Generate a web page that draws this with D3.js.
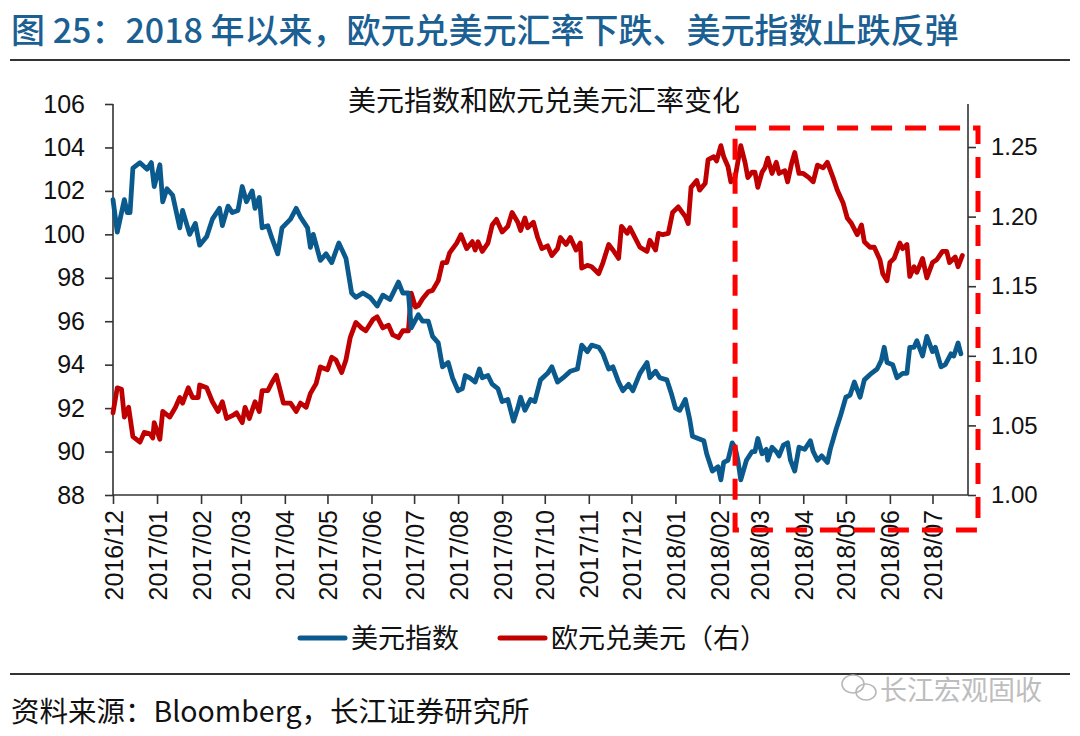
<!DOCTYPE html>
<html><head><meta charset="utf-8">
<script src="https://cdn.jsdelivr.net/npm/d3@7"></script>
<style>
html,body{margin:0;padding:0;background:#fff;}
svg{display:block;}
</style></head>
<body><svg id="chart" width="1080" height="736"></svg>
<script>
// ---------- DATA ----------
const chartTitle = "图 25：2018 年以来，欧元兑美元汇率下跌、美元指数止跌反弹";
const subTitle = "美元指数和欧元兑美元汇率变化";
const seriesNames = ["美元指数", "欧元兑美元（右）"];
const sourceText = "资料来源：Bloomberg，长江证券研究所";
const watermark = "长江宏观固收";

const monthTicks = ["2016/12","2017/01","2017/02","2017/03","2017/04","2017/05","2017/06","2017/07","2017/08","2017/09","2017/10","2017/11","2017/12","2018/01","2018/02","2018/03","2018/04","2018/05","2018/06","2018/07"];
const leftTicks = [88,90,92,94,96,98,100,102,104,106];
const rightTicks = [1.00,1.05,1.10,1.15,1.20,1.25];
const xStart = "2016-12-01", xEnd = "2018-07-26";
const boxFrom = "2018-02-12"; // highlighted period start

const dxyDates = ["2016-12-01","2016-12-04","2016-12-09","2016-12-11","2016-12-13","2016-12-15","2016-12-20","2016-12-25","2016-12-28","2016-12-30",
"2017-01-03","2017-01-05","2017-01-08","2017-01-12","2017-01-17","2017-01-19","2017-01-24","2017-01-28","2017-01-31",
"2017-02-05","2017-02-09","2017-02-14","2017-02-16","2017-02-20","2017-02-23","2017-02-27",
"2017-03-02","2017-03-05","2017-03-09","2017-03-11","2017-03-14","2017-03-16","2017-03-20","2017-03-23","2017-03-27","2017-03-30",
"2017-04-05","2017-04-09","2017-04-12","2017-04-17","2017-04-19","2017-04-21","2017-04-26","2017-04-30",
"2017-05-04","2017-05-09","2017-05-14","2017-05-18","2017-05-21","2017-05-26","2017-05-31",
"2017-06-05","2017-06-09","2017-06-14","2017-06-20","2017-06-23","2017-06-27","2017-06-29",
"2017-07-04","2017-07-07","2017-07-11","2017-07-14","2017-07-18","2017-07-21","2017-07-25","2017-07-28",
"2017-08-01","2017-08-04","2017-08-06","2017-08-09","2017-08-13","2017-08-16","2017-08-18","2017-08-22","2017-08-25","2017-08-29",
"2017-09-01","2017-09-05","2017-09-09","2017-09-12","2017-09-14","2017-09-17","2017-09-21","2017-09-24","2017-09-28",
"2017-10-03","2017-10-06","2017-10-10","2017-10-14","2017-10-19","2017-10-24","2017-10-27","2017-10-31",
"2017-11-03","2017-11-08","2017-11-11","2017-11-15","2017-11-18","2017-11-22","2017-11-25","2017-11-29",
"2017-12-02","2017-12-07","2017-12-12","2017-12-14","2017-12-18","2017-12-21","2017-12-26","2017-12-29",
"2018-01-01","2018-01-04","2018-01-08","2018-01-11","2018-01-13","2018-01-17","2018-01-21","2018-01-23","2018-01-27","2018-01-31",
"2018-02-02","2018-02-04","2018-02-07","2018-02-10","2018-02-12","2018-02-14","2018-02-16","2018-02-20","2018-02-24","2018-02-26","2018-02-28",
"2018-03-03","2018-03-06","2018-03-07","2018-03-10","2018-03-13","2018-03-15","2018-03-18","2018-03-21","2018-03-23","2018-03-26","2018-03-29",
"2018-04-02","2018-04-06","2018-04-08","2018-04-11","2018-04-14","2018-04-18","2018-04-20","2018-04-24","2018-04-27",
"2018-05-01","2018-05-04","2018-05-07","2018-05-11","2018-05-14","2018-05-19","2018-05-23","2018-05-26","2018-05-28","2018-05-30",
"2018-06-03","2018-06-06","2018-06-10","2018-06-13","2018-06-15","2018-06-18","2018-06-20","2018-06-24","2018-06-27",
"2018-07-01","2018-07-03","2018-07-07","2018-07-10","2018-07-14","2018-07-16","2018-07-19","2018-07-21"];
const dxyValues = [101.6,100.1,101.6,101.0,101.0,103.05,103.3,103.0,103.3,102.2,
103.2,101.5,102.1,101.8,100.3,101.1,100.0,100.5,99.5,
99.9,100.7,101.2,100.4,101.3,101.0,101.1,
102.2,101.5,102.0,101.2,101.7,100.3,100.4,99.8,99.1,100.3,
100.7,101.2,100.8,100.3,99.4,100.0,98.8,99.1,
98.7,99.6,98.9,97.3,97.1,97.3,97.1,
96.7,97.2,97.0,97.8,97.3,97.3,95.7,
96.3,96.0,96.0,95.3,95.0,93.9,94.1,93.4,
92.8,92.9,93.5,93.4,93.2,93.8,93.4,93.5,93.1,92.9,
92.3,92.4,91.4,92.0,92.5,91.9,92.4,92.3,93.3,
93.6,93.9,93.2,93.4,93.7,93.8,94.9,94.6,
94.9,94.8,94.5,93.8,93.9,93.2,92.8,93.1,
92.8,93.6,94.1,93.4,93.7,93.4,93.3,92.7,
92.0,91.9,92.4,91.5,90.7,90.6,90.5,89.9,89.1,89.3,
88.7,89.5,89.6,90.4,90.2,89.6,88.7,89.6,90.0,90.0,90.6,
89.9,90.1,89.6,90.2,90.0,89.8,90.3,90.4,89.6,89.1,90.2,
90.1,90.5,90.0,89.6,89.8,89.5,90.1,91.0,91.6,
92.5,92.6,93.2,92.5,93.3,93.6,93.8,94.2,94.8,94.1,
94.0,93.4,93.6,93.6,94.8,94.8,95.1,94.4,95.3,
94.6,94.8,93.9,94.0,94.5,94.4,95.0,94.5];

const eurDates = ["2016-12-01","2016-12-04","2016-12-07","2016-12-09","2016-12-12","2016-12-15","2016-12-20","2016-12-23","2016-12-27","2016-12-29","2016-12-30",
"2017-01-03","2017-01-05","2017-01-10","2017-01-14","2017-01-17","2017-01-19","2017-01-23","2017-01-26","2017-01-30","2017-01-31",
"2017-02-05","2017-02-09","2017-02-13","2017-02-16","2017-02-19","2017-02-23","2017-02-26",
"2017-03-02","2017-03-04","2017-03-07","2017-03-11","2017-03-14","2017-03-16","2017-03-20","2017-03-23","2017-03-26","2017-03-31",
"2017-04-05","2017-04-09","2017-04-12","2017-04-16","2017-04-19","2017-04-23","2017-04-26",
"2017-05-01","2017-05-04","2017-05-07","2017-05-11","2017-05-14","2017-05-17","2017-05-21","2017-05-25","2017-05-28",
"2017-06-02","2017-06-05","2017-06-09","2017-06-13","2017-06-16","2017-06-20","2017-06-23","2017-06-27","2017-06-29",
"2017-07-02","2017-07-04","2017-07-07","2017-07-11","2017-07-14","2017-07-18","2017-07-21","2017-07-24","2017-07-26","2017-07-31",
"2017-08-03","2017-08-07","2017-08-11","2017-08-13","2017-08-15","2017-08-18","2017-08-22","2017-08-25","2017-08-28",
"2017-09-01","2017-09-05","2017-09-08","2017-09-12","2017-09-14","2017-09-17","2017-09-19","2017-09-23","2017-09-26","2017-09-29",
"2017-10-03","2017-10-06","2017-10-10","2017-10-12","2017-10-16","2017-10-19","2017-10-23","2017-10-26","2017-10-27","2017-10-31",
"2017-11-03","2017-11-08","2017-11-11","2017-11-15","2017-11-18","2017-11-22","2017-11-24","2017-11-28","2017-11-30",
"2017-12-02","2017-12-07","2017-12-12","2017-12-14","2017-12-18","2017-12-20","2017-12-23","2017-12-27","2017-12-30",
"2018-01-03","2018-01-08","2018-01-10","2018-01-12","2018-01-16","2018-01-18","2018-01-22","2018-01-24","2018-01-28","2018-01-30",
"2018-02-02","2018-02-04","2018-02-07","2018-02-09","2018-02-12","2018-02-16","2018-02-19","2018-02-21","2018-02-24","2018-02-26","2018-02-28",
"2018-03-03","2018-03-05","2018-03-07","2018-03-10","2018-03-13","2018-03-15","2018-03-19","2018-03-21","2018-03-24","2018-03-26","2018-03-29",
"2018-04-01","2018-04-05","2018-04-08","2018-04-11","2018-04-15","2018-04-18","2018-04-22","2018-04-25","2018-04-29",
"2018-05-02","2018-05-05","2018-05-09","2018-05-12","2018-05-14","2018-05-18","2018-05-21","2018-05-25","2018-05-27","2018-05-30",
"2018-06-01","2018-06-04","2018-06-08","2018-06-10","2018-06-13","2018-06-15","2018-06-18","2018-06-20","2018-06-24","2018-06-27",
"2018-07-01","2018-07-04","2018-07-08","2018-07-11","2018-07-13","2018-07-17","2018-07-19","2018-07-22"];
const eurValues = [1.059,1.077,1.076,1.056,1.063,1.042,1.038,1.045,1.044,1.041,1.052,
1.040,1.060,1.056,1.063,1.070,1.066,1.077,1.070,1.070,1.079,
1.077,1.067,1.060,1.067,1.055,1.057,1.059,
1.052,1.063,1.055,1.067,1.060,1.075,1.075,1.081,1.086,1.066,
1.066,1.060,1.066,1.063,1.073,1.080,1.092,
1.090,1.099,1.097,1.088,1.097,1.113,1.124,1.120,1.118,
1.126,1.128,1.120,1.122,1.115,1.113,1.118,1.118,1.145,
1.135,1.136,1.141,1.146,1.147,1.154,1.167,1.167,1.174,1.181,
1.187,1.177,1.182,1.176,1.182,1.175,1.181,1.194,1.198,
1.189,1.193,1.203,1.196,1.190,1.199,1.192,1.196,1.185,1.177,
1.179,1.172,1.177,1.185,1.180,1.185,1.176,1.181,1.163,1.165,
1.164,1.159,1.167,1.180,1.176,1.170,1.193,1.188,1.192,
1.188,1.178,1.175,1.183,1.176,1.188,1.187,1.188,1.203,
1.207,1.200,1.195,1.221,1.226,1.219,1.224,1.241,1.243,1.240,
1.251,1.243,1.236,1.225,1.228,1.251,1.239,1.228,1.232,1.232,1.221,
1.232,1.235,1.242,1.231,1.239,1.231,1.233,1.225,1.239,1.246,1.231,
1.231,1.228,1.225,1.237,1.235,1.239,1.228,1.219,1.210,
1.199,1.195,1.187,1.194,1.182,1.178,1.178,1.169,1.159,1.154,
1.167,1.170,1.181,1.177,1.180,1.157,1.164,1.160,1.170,1.156,
1.167,1.169,1.175,1.175,1.167,1.171,1.164,1.172];

// ---------- CHART ----------
const svg = d3.select("#chart");
const parse = d3.timeParse("%Y-%m-%d");
const parseM = d3.timeParse("%Y/%m");
const M = {left:113, right:968, top:104, bottom:495};
const blue = "#0b5a8e", red = "#c00000";
const cjk = "'Noto Sans CJK SC','Noto Sans',sans-serif";
const lat = "'Liberation Sans',Arial,sans-serif";

const x = d3.scaleTime().domain([parse(xStart), parse(xEnd)]).range([M.left, M.right]);
const yL = d3.scaleLinear().domain([88,106]).range([M.bottom, M.top]);
const yR = d3.scaleLinear().domain([1.00, 1.2809]).range([M.bottom, M.top]);

// title
svg.append("text").attr("x",11).attr("y",43).attr("fill","#1c5f93")
  .attr("font-family",cjk).attr("font-size",34).attr("font-weight",500).text(chartTitle);
svg.append("line").attr("x1",10).attr("x2",1070).attr("y1",60).attr("y2",60)
  .attr("stroke","#333").attr("stroke-width",2);
svg.append("text").attr("x",544).attr("y",111).attr("text-anchor","middle")
  .attr("font-family",cjk).attr("font-size",28).attr("fill","#111").text(subTitle);

// axes
const axL = svg.append("g").attr("transform",`translate(${M.left},0)`)
  .call(d3.axisLeft(yL).tickValues(leftTicks).tickSize(8).tickPadding(20).tickFormat(d3.format("d")));
const axR = svg.append("g").attr("transform",`translate(${M.right},0)`)
  .call(d3.axisRight(yR).tickValues(rightTicks).tickSize(8).tickPadding(15).tickFormat(d3.format(".2f")));
const axX = svg.append("g").attr("transform",`translate(0,${M.bottom})`)
  .call(d3.axisBottom(x).tickValues(monthTicks.map(parseM)).tickSize(9).tickFormat(d3.timeFormat("%Y/%m")));
[axL,axR,axX].forEach(g=>{
  g.select(".domain").attr("stroke","#333").attr("stroke-width",1.6);
  g.selectAll(".tick line").attr("stroke","#333").attr("stroke-width",1.6);
  g.selectAll("text").attr("font-family",lat).attr("fill","#111");
});
axL.selectAll("text").attr("font-size",25);
axR.selectAll("text").attr("font-size",24);
axL.select(".domain").attr("d",`M0,${M.bottom}V${M.top}`);
axR.select(".domain").attr("d",`M0,${M.bottom}V${M.top}`);
axX.select(".domain").attr("d",`M${M.left},0H${M.right}`);
axX.selectAll("text").attr("font-size",25)
  .attr("transform","rotate(-90)").attr("text-anchor","end")
  .attr("x",-15).attr("y",0).attr("dy","0.36em");

// lines
const dxy = dxyDates.map((d,i)=>({d:parse(d), v:dxyValues[i]}));
const eur = eurDates.map((d,i)=>({d:parse(d), v:eurValues[i]}));
svg.append("path").datum(eur).attr("fill","none").attr("stroke",red).attr("stroke-width",4.8)
  .attr("stroke-linejoin","round").attr("stroke-linecap","round")
  .attr("d", d3.line().x(p=>x(p.d)).y(p=>yR(p.v)));
svg.append("path").datum(dxy).attr("fill","none").attr("stroke",blue).attr("stroke-width",4.8)
  .attr("stroke-linejoin","round").attr("stroke-linecap","round")
  .attr("d", d3.line().x(p=>x(p.d)).y(p=>yL(p.v)));

// highlight box
const bx0 = x(parse(boxFrom)), bx1 = M.right + 10, by0 = M.top + 24, by1 = M.bottom + 35;
svg.append("rect").attr("x",bx0).attr("y",by0).attr("width",bx1-bx0).attr("height",by1-by0)
  .attr("fill","none").attr("stroke","#ff0000").attr("stroke-width",5)
  .attr("stroke-dasharray","21,13");

// legend
const lg = svg.append("g");
const legX = [300, 500];
[blue, red].forEach((c,i)=>{
  lg.append("line").attr("x1",legX[i]).attr("x2",legX[i]+45).attr("y1",638).attr("y2",638)
    .attr("stroke",c).attr("stroke-width",5).attr("stroke-linecap","round");
  lg.append("text").attr("x",legX[i]+51).attr("y",648).attr("font-family",cjk)
    .attr("font-size",27).attr("fill","#111").text(seriesNames[i]);
});

// footer
svg.append("line").attr("x1",10).attr("x2",1070).attr("y1",674).attr("y2",674)
  .attr("stroke","#333").attr("stroke-width",2);
svg.append("text").attr("x",11).attr("y",722).attr("font-family",cjk).attr("font-size",28.5)
  .attr("fill","#111").text(sourceText);
const wm = svg.append("g").attr("fill","none").attr("stroke","#b9b9b9").attr("stroke-width",1.6);
wm.append("ellipse").attr("cx",853).attr("cy",684).attr("rx",11).attr("ry",9);
wm.append("ellipse").attr("cx",866).attr("cy",692).attr("rx",10).attr("ry",8);
svg.append("text").attr("x",880).attr("y",700).attr("font-family",cjk).attr("font-size",27)
  .attr("fill","#bdbdbd").text(watermark);
</script></body></html>
